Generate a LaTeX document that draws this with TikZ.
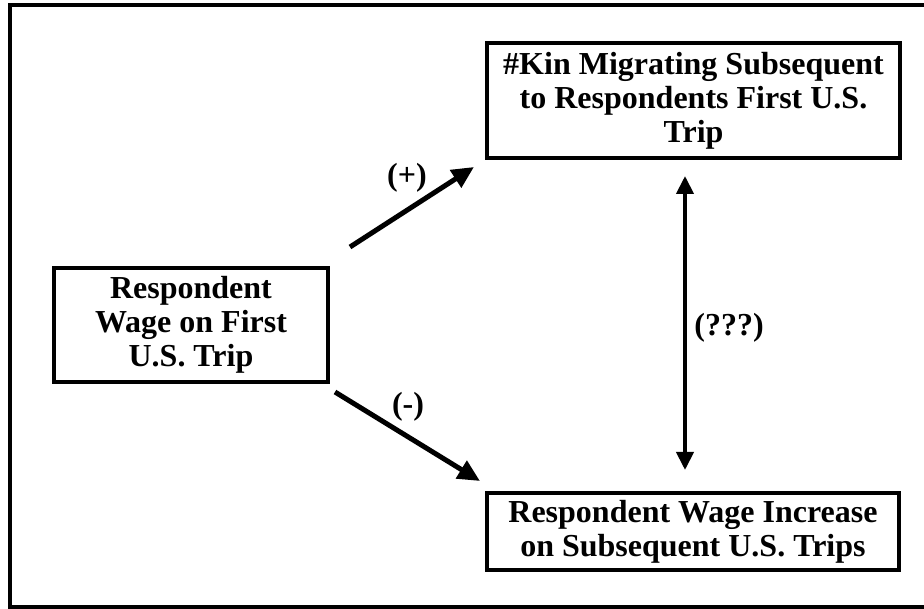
\documentclass[tikz,border=0pt]{standalone}
\usepackage{fontspec}
\setmainfont{Liberation Serif}
\usetikzlibrary{arrows.meta}
\tikzset{
  box/.style={draw, line width=3.5pt, inner sep=0pt, align=center,
    font=\bfseries\fontsize{32}{34}\selectfont},
  lbl/.style={inner sep=0pt, font=\bfseries\fontsize{32}{34}\selectfont},
  thickarrow/.style={line width=5pt, -{Triangle[length=22pt,width=20pt]}},
  dblarrow/.style={line width=4pt, {Triangle[length=18pt,width=17pt]}-{Triangle[length=18pt,width=17pt]}}
}
\begin{document}
\begin{tikzpicture}[x=1pt,y=-1pt]
\useasboundingbox (0,0) rectangle (924,609);
\begin{scope}
\clip (0,0) rectangle (924,609);
\draw[line width=3.5pt] (930,5) -- (10,5) -- (10,607) -- (930,607);
\end{scope}
\node[box, minimum width=413pt, minimum height=115pt] (kin) at (693.5,100.5)
  {\#Kin Migrating Subsequent\\to Respondents First U.S.\\Trip};
\node[box, minimum width=412pt, minimum height=77pt] (inc) at (693,531.5)
  {Respondent Wage Increase\\on Subsequent U.S. Trips};
\node[box, minimum width=274pt, minimum height=114pt] (wage) at (191,325)
  {Respondent\\Wage on First\\U.S. Trip};
\coordinate (a1) at (350,247);
\coordinate (a2) at (474,167);
\coordinate (b1) at (335,392);
\coordinate (b2) at (480,481);
\coordinate (c1) at (685,176);
\coordinate (c2) at (685,470);
\draw[thickarrow] (a1) -- (a2);
\draw[thickarrow] (b1) -- (b2);
\draw[dblarrow] (c1) -- (c2);
\node[lbl] (plus) at (407,178) {(+)};
\node[lbl] (minus) at (408,407) {(-)};
\node[lbl] (qqq) at (729,328) {(???)};
\end{tikzpicture}
\end{document}
